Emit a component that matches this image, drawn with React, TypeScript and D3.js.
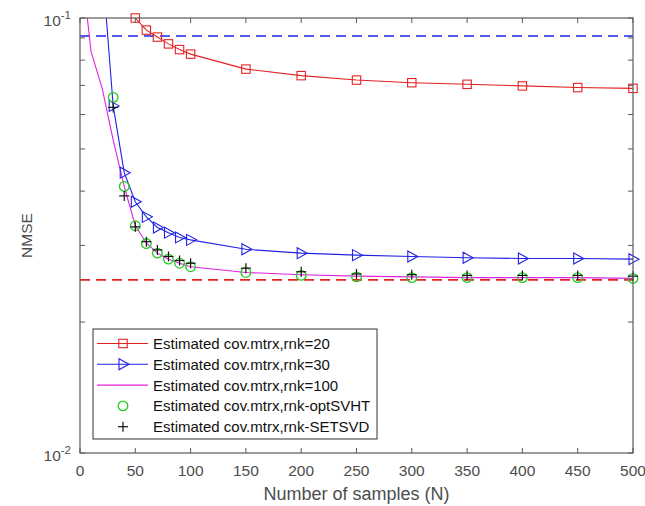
import React from "react";
import * as d3 from "d3";

// Sample sizes at which the estimators were evaluated
const xRnk20 = [50, 60, 70, 80, 90, 100, 150, 200, 250, 300, 350, 400, 450, 500];
const nmseRnk20 = [0.1, 0.0938, 0.0904, 0.0872, 0.0846, 0.0826, 0.0763, 0.0737, 0.072, 0.071, 0.0704, 0.0698, 0.0692, 0.0689];

const xRnk30 = [20, 30, 40, 50, 60, 70, 80, 90, 100, 150, 200, 250, 300, 350, 400, 450, 500];
const nmseRnk30 = [0.133, 0.0628, 0.0441, 0.0378, 0.0349, 0.033, 0.0321, 0.0313, 0.0309, 0.0294, 0.0288, 0.0285, 0.0283, 0.0281, 0.028, 0.028, 0.0279];

const xRnk100 = [5, 10, 20, 30, 40, 50, 60, 70, 80, 90, 100, 150, 200, 250, 300, 350, 400, 450, 500];
const nmseRnk100 = [0.109, 0.0837, 0.069, 0.0524, 0.041, 0.0333, 0.0304, 0.0288, 0.0279, 0.0273, 0.0268, 0.026, 0.0257, 0.0255, 0.0254, 0.0253, 0.0253, 0.0253, 0.0252];

const xAdaptive = [30, 40, 50, 60, 70, 80, 90, 100, 150, 200, 250, 300, 350, 400, 450, 500];
const nmseOptSVHT = [0.0657, 0.041, 0.0333, 0.0303, 0.0288, 0.0279, 0.0273, 0.0268, 0.026, 0.0256, 0.0254, 0.0253, 0.0253, 0.0253, 0.0253, 0.0252];
const nmseSETSVD = [0.0623, 0.039, 0.0331, 0.0306, 0.0293, 0.0283, 0.0277, 0.0273, 0.0266, 0.0261, 0.0258, 0.0257, 0.0256, 0.0256, 0.0256, 0.0255];

// Horizontal reference levels
const refBlue = 0.0909;
const refRed = 0.025;

const xTicks = [0, 50, 100, 150, 200, 250, 300, 350, 400, 450, 500];
const yMajor = [0.01, 0.1];
const yMinor = [0.02, 0.03, 0.04, 0.05, 0.06, 0.07, 0.08, 0.09];

const legendLabels = [
  "Estimated cov.mtrx,rnk=20",
  "Estimated cov.mtrx,rnk=30",
  "Estimated cov.mtrx,rnk=100",
  "Estimated cov.mtrx,rnk-optSVHT",
  "Estimated cov.mtrx,rnk-SETSVD",
];

const RED = "#e42222";
const BLUE = "#2222e6";
const MAGENTA = "#e022e0";
const GREEN = "#22cc22";
const BLACK = "#111";
const AXIS = "#5a5a5a";
const FONT = "Arial, 'Liberation Sans', Helvetica, sans-serif";

const L = 80, R = 633, T = 18, B = 453;

const x = d3.scaleLinear().domain([0, 500]).range([L, R]);
const y = d3.scaleLog().domain([0.01, 0.1]).range([B, T]);

const pathOf = (xs: number[], ys: number[]) =>
  d3.line<number>().x((_, i) => x(xs[i])).y((v) => y(v))(ys) || "";

function Square({ cx, cy, color }: { cx: number; cy: number; color: string }) {
  return <rect x={cx - 4.2} y={cy - 4.2} width={8.4} height={8.4} fill="none" stroke={color} strokeWidth={1.1} />;
}
function Tri({ cx, cy, color }: { cx: number; cy: number; color: string }) {
  const p = [[cx - 4, cy - 5.5], [cx + 6, cy], [cx - 4, cy + 5.5]];
  return <polygon points={p.map((q) => q.join(",")).join(" ")} fill="none" stroke={color} strokeWidth={1.1} />;
}
function Circ({ cx, cy, color }: { cx: number; cy: number; color: string }) {
  return <circle cx={cx} cy={cy} r={4.8} fill="none" stroke={color} strokeWidth={1.3} />;
}
function Plus({ cx, cy, color }: { cx: number; cy: number; color: string }) {
  return (
    <g stroke={color} strokeWidth={1.2}>
      <line x1={cx - 5} x2={cx + 5} y1={cy} y2={cy} />
      <line x1={cx} x2={cx} y1={cy - 5} y2={cy + 5} />
    </g>
  );
}

export default function App() {
  const legX = 93, legY = 329, legW = 284, legH = 110, rowH = 20.8;
  return (
    <svg width={645} height={506} style={{ position: "absolute", left: 0, top: 0, background: "#fff" }} fontFamily={FONT}>
      <defs>
        <clipPath id="plotArea">
          <rect x={L} y={T} width={R - L} height={B - T} />
        </clipPath>
      </defs>
      <rect x={0} y={0} width={645} height={506} fill="#fff" />

      {/* reference levels */}
      <g clipPath="url(#plotArea)" strokeWidth={1.6} strokeDasharray="10,6">
        <line x1={L} x2={R} y1={y(refBlue)} y2={y(refBlue)} stroke={BLUE} />
        <line x1={L} x2={R} y1={y(refRed)} y2={y(refRed)} stroke={RED} />
      </g>

      {/* curves */}
      <g clipPath="url(#plotArea)" fill="none" strokeWidth={1.1}>
        <path d={pathOf(xRnk20, nmseRnk20)} stroke={RED} />
        <path d={pathOf(xRnk30, nmseRnk30)} stroke={BLUE} />
        <path d={pathOf(xRnk100, nmseRnk100)} stroke={MAGENTA} />
      </g>

      {/* markers */}
      {xRnk20.map((v, i) => <Square key={"s" + i} cx={x(v)} cy={y(nmseRnk20[i])} color={RED} />)}
      {xRnk30.map((v, i) => nmseRnk30[i] <= 0.1 ? <Tri key={"t" + i} cx={x(v)} cy={y(nmseRnk30[i])} color={BLUE} /> : null)}
      {xAdaptive.map((v, i) => <Circ key={"c" + i} cx={x(v)} cy={y(nmseOptSVHT[i])} color={GREEN} />)}
      {xAdaptive.map((v, i) => <Plus key={"p" + i} cx={x(v)} cy={y(nmseSETSVD[i])} color={BLACK} />)}

      {/* axes box and ticks */}
      <rect x={L} y={T} width={R - L} height={B - T} fill="none" stroke={AXIS} strokeWidth={1.2} />
      <g stroke={AXIS} strokeWidth={1}>
        {xTicks.map((t) => (
          <g key={"xt" + t}>
            <line x1={x(t)} x2={x(t)} y1={B} y2={B - 5} />
            <line x1={x(t)} x2={x(t)} y1={T} y2={T + 5} />
          </g>
        ))}
        {[...yMajor, ...yMinor].map((t) => (
          <g key={"yt" + t}>
            <line x1={L} x2={L + 5} y1={y(t)} y2={y(t)} />
            <line x1={R} x2={R - 5} y1={y(t)} y2={y(t)} />
          </g>
        ))}
      </g>
      <g fill="#4d4d4d" fontSize={15.5}>
        {xTicks.map((t) => (
          <text key={"xl" + t} x={x(t)} y={B + 23} textAnchor="middle">{t}</text>
        ))}
        {yMajor.map((t) => (
          <text key={"yl" + t} x={L - 9} y={y(t) + 8} textAnchor="end">
            10<tspan dy={-7} fontSize={11.5}>{String(Math.round(Math.log10(t)))}</tspan>
          </text>
        ))}
        <text x={(L + R) / 2} y={500} textAnchor="middle" fontSize={18}>Number of samples (N)</text>
        <text transform={`translate(32,${(T + B) / 2}) rotate(-90)`} textAnchor="middle" fontSize={15.5}>NMSE</text>
      </g>

      {/* legend */}
      <g>
        <rect x={legX} y={legY} width={legW} height={legH} fill="#fff" stroke="#333" strokeWidth={1} />
        {legendLabels.map((lab, i) => {
          const cy = legY + 14.5 + i * rowH;
          const mx = legX + 30;
          return (
            <g key={"lg" + i}>
              {i === 0 && <line x1={legX + 4} x2={legX + 55} y1={cy} y2={cy} stroke={RED} strokeWidth={1.1} />}
              {i === 1 && <line x1={legX + 4} x2={legX + 55} y1={cy} y2={cy} stroke={BLUE} strokeWidth={1.1} />}
              {i === 2 && <line x1={legX + 4} x2={legX + 55} y1={cy} y2={cy} stroke={MAGENTA} strokeWidth={1.1} />}
              {i === 0 && <Square cx={mx} cy={cy} color={RED} />}
              {i === 1 && <Tri cx={mx} cy={cy} color={BLUE} />}
              {i === 3 && <Circ cx={mx} cy={cy} color={GREEN} />}
              {i === 4 && <Plus cx={mx} cy={cy} color={BLACK} />}
              <text x={legX + 60} y={cy + 5.5} fontSize={15} fill="#111">{lab}</text>
            </g>
          );
        })}
      </g>
    </svg>
  );
}
